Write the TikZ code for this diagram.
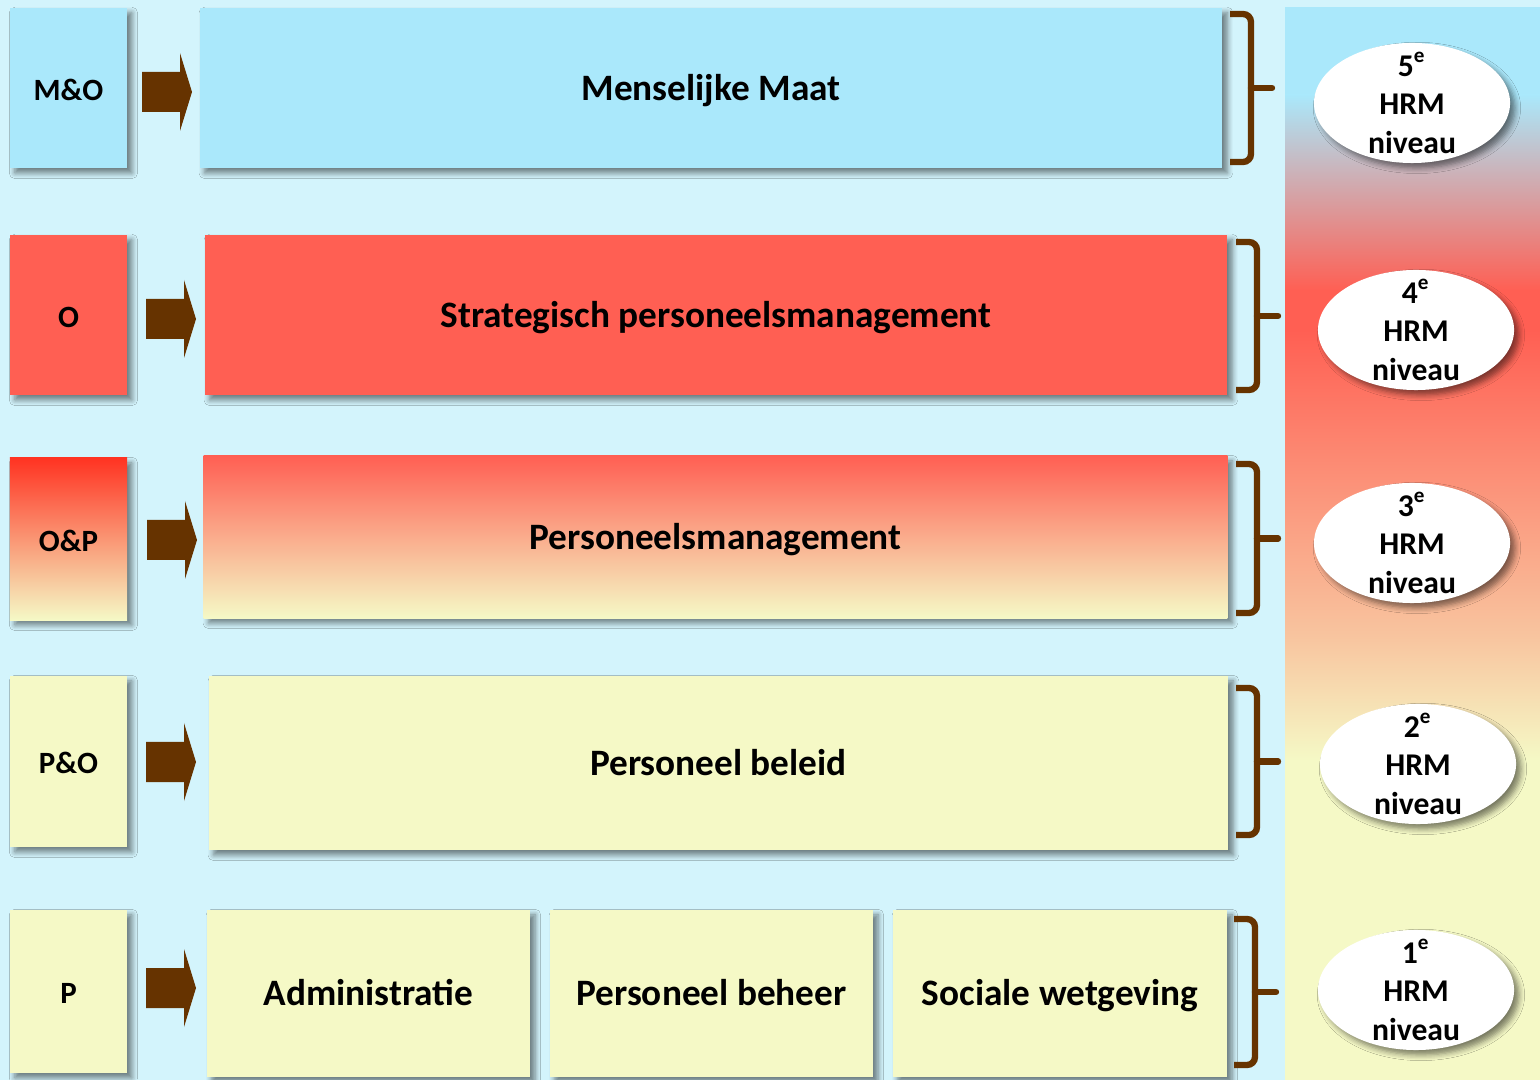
\documentclass[tikz,border=0pt]{standalone}
\usepackage{fontspec}
\setmainfont{Carlito}
\usetikzlibrary{calc,shapes.geometric,shadows.blur}
\definecolor{bgblue}{HTML}{D3F4FC}
\definecolor{boxblue}{HTML}{AAE8FB}
\definecolor{boxred}{HTML}{FF5F53}
\definecolor{boxyellow}{HTML}{F5F9C6}
\definecolor{peach}{HTML}{F8C6A0}
\definecolor{deepred}{HTML}{FF3322}
\definecolor{arrowbrown}{HTML}{663300}
\begin{document}
\begin{tikzpicture}[x=0.01cm,y=-0.01cm,
  softshadow/.style={blur shadow={shadow xshift=1.4pt,shadow yshift=-1.4pt,shadow blur radius=1.6pt,shadow opacity=50,shadow blur steps=5}},
  box/.style={rectangle,inner sep=0pt,text height=0.7em,text depth=0pt,
    font=\fontsize{10.6}{12}\selectfont\bfseries,softshadow},
  tag/.style={box,minimum width=1.17cm,font=\fontsize{8.8}{11}\selectfont\bfseries},
  level/.style={ellipse,fill=white,minimum width=1.96cm,minimum height=1.2cm,inner xsep=0pt,inner ysep=-0.16cm,
    align=center,font=\fontsize{9}{11}\selectfont\bfseries,softshadow},
  bracket/.style={draw=arrowbrown,line width=1.8pt}]
\useasboundingbox (0,0) rectangle (1540,1080);
\fill[bgblue] (0,0) rectangle (1540,1080);
% gradient panel on the right
\fill[boxblue] (1285,7) rectangle (1540,96);
\shade[top color=boxblue,bottom color=boxred] (1285,95) rectangle (1540,291);
\fill[boxred] (1285,290) rectangle (1540,331);
\shade[top color=boxred,bottom color=peach] (1285,330) rectangle (1540,641);
\shade[top color=peach,bottom color=boxyellow] (1285,640) rectangle (1540,761);
\fill[boxyellow] (1285,760) rectangle (1540,1080);
% left tags
\node[tag,fill=boxblue,minimum height=1.6cm] (m1) at (68.5,88) {M\&O};
\node[tag,fill=boxred,minimum height=1.6cm] (m2) at (68.5,315) {O};
\node[tag,top color=deepred,middle color=peach,bottom color=boxyellow,minimum height=1.62cm] (m3) at (68.5,539) {O\&P};
\node[tag,fill=boxyellow,minimum height=1.71cm] (m4) at (68.5,761.5) {P\&O};
\node[tag,fill=boxyellow,minimum height=1.63cm] (m5) at (68.5,991.5) {P};
% main boxes
\node[box,fill=boxblue,minimum width=10.22cm,minimum height=1.6cm] (b1) at (711,88) {Menselijke Maat};
\node[box,fill=boxred,minimum width=10.22cm,minimum height=1.6cm] (b2) at (716,315) {Strategisch personeelsmanagement};
\node[box,top color=boxred,middle color=peach!90!boxred,bottom color=boxyellow,minimum width=10.23cm,minimum height=1.62cm] (b3) at (715.5,537) {Personeelsmanagement};
\node[box,fill=boxyellow,minimum width=10.19cm,minimum height=1.74cm] (b4) at (718.5,763) {Personeel beleid};
\node[box,fill=boxyellow,minimum width=3.23cm,minimum height=1.67cm] (b5a) at (368.5,993.5) {Administratie};
\node[box,fill=boxyellow,minimum width=3.23cm,minimum height=1.67cm] (b5b) at (711.5,993.5) {Personeel beheer};
\node[box,fill=boxyellow,minimum width=3.34cm,minimum height=1.67cm] (b5c) at (1060,993.5) {Sociale wetgeving};
% block arrows
\foreach \ay/\ax in {92/142,319/146,540/147,762/146,988/146}
  \fill[arrowbrown] (\ax,\ay-20) -- ++(38,0) -- ++(0,-19) -- (\ax+50,\ay) -- (\ax+38,\ay+39) -- ++(0,-19) -- (\ax,\ay+20) -- cycle;
% braces
\foreach \bx/\bt/\bb in {1230/14/162,1236/242/390,1236/464/613,1236/688/835,1234/919/1065}{
  \draw[bracket,rounded corners=0.08cm] (\bx,\bt) -- (\bx+21,\bt) -- (\bx+21,{(\bt+\bb)/2}) -- (\bx+21,\bb) -- (\bx,\bb);
  \draw[bracket,line cap=round] (\bx+21,{(\bt+\bb)/2}) -- (\bx+42,{(\bt+\bb)/2});
}
% levels
\node[level] (e5) at (1412,103) {5\textsuperscript{e}\\HRM\\niveau};
\node[level] (e4) at (1416,330) {4\textsuperscript{e}\\HRM\\niveau};
\node[level] (e3) at (1412,543) {3\textsuperscript{e}\\HRM\\niveau};
\node[level] (e2) at (1418,764) {2\textsuperscript{e}\\HRM\\niveau};
\node[level] (e1) at (1416,990) {1\textsuperscript{e}\\HRM\\niveau};
\end{tikzpicture}
\end{document}
